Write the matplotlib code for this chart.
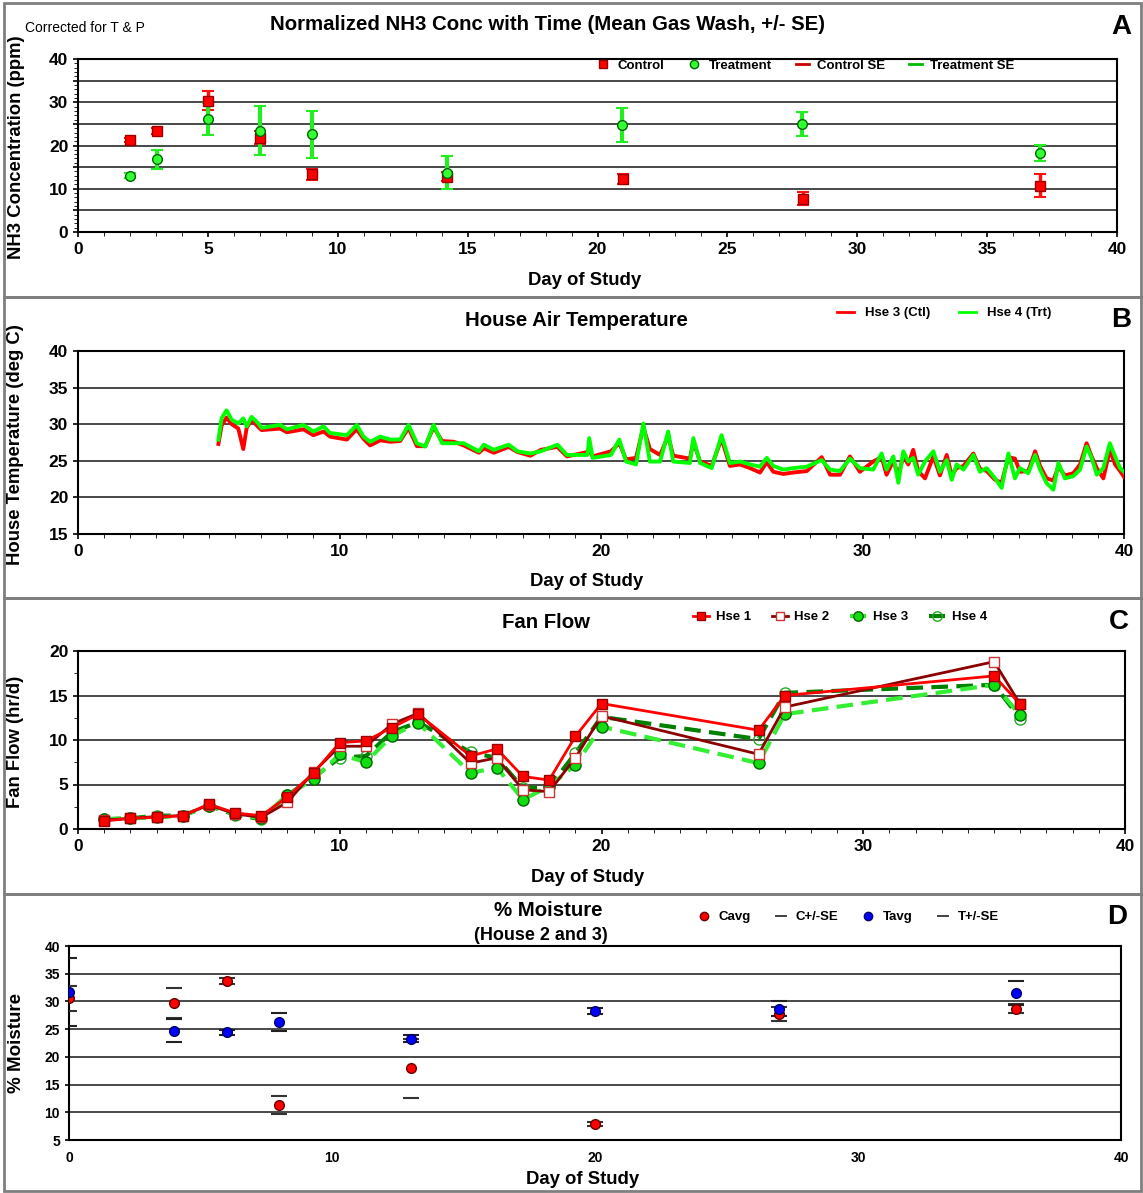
import matplotlib
matplotlib.use('Agg')
import matplotlib.pyplot as plt
from matplotlib.ticker import MultipleLocator, FuncFormatter
from matplotlib.patches import Rectangle
from matplotlib.lines import Line2D

plt.rcParams['font.family'] = ['Liberation Sans', 'DejaVu Sans']
plt.rcParams['font.weight'] = 'bold'
plt.rcParams['axes.linewidth'] = 1.5

# ---- A: NH3 gas wash means (ppm) +/- SE
ctl_days = [2, 3.03, 5.02, 7.02, 9.01, 14.22, 20.97, 27.93, 37.03]
ctl_mean = [21.2, 23.4, 30.4, 21.8, 13.3, 12.8, 12.3, 7.7, 10.7]
ctl_se = [0.5, 0.7, 2.2, 1.5, 1.2, 1.0, 1.2, 1.5, 2.7]
trt_days = [2, 3.03, 5.02, 7.02, 9.01, 14.22, 20.93, 27.89, 37.03]
trt_mean = [13.0, 16.8, 26.2, 23.4, 22.6, 13.7, 24.7, 25.0, 18.3]
trt_se = [0.6, 2.2, 3.7, 5.7, 5.4, 3.8, 4.0, 2.8, 1.9]

# ---- B: house air temperature (deg C)
temp_days = [5.37, 5.49, 5.68, 5.88, 6.13, 6.32, 6.45, 6.64, 6.9, 7.02, 7.73, 7.99,
             8.62, 9.0, 9.39, 9.64, 10.28, 10.66, 10.92, 11.17, 11.56, 11.94, 12.32,
             12.64, 12.96, 13.28, 13.6, 13.92, 14.37, 14.75, 15.33, 15.52, 15.9, 16.47,
             16.8, 17.3, 17.7, 18.33, 18.7, 19.48, 19.55, 19.68, 20.38, 20.7, 20.96,
             21.34, 21.62, 21.87, 22.26, 22.57, 22.76, 23.4, 23.53, 23.79, 24.23, 24.61,
             24.93, 25.32, 25.7, 26.08, 26.34, 26.59, 26.97, 27.35, 27.87, 28.44, 28.76,
             29.14, 29.52, 29.9, 30.41, 30.73, 30.92, 31.18, 31.37, 31.56, 31.75, 31.94,
             32.13, 32.39, 32.71, 32.96, 33.22, 33.41, 33.6, 33.86, 34.24, 34.49, 34.75,
             35.07, 35.32, 35.58, 35.83, 36.02, 36.34, 36.6, 36.79, 37.04, 37.3, 37.49,
             37.74, 38.06, 38.32, 38.57, 38.76, 38.96, 39.21, 39.46, 39.66, 39.85, 40.0]
temp_ctl = [27.3, 29.8, 30.9, 30.0, 29.4, 26.6, 29.5, 30.6, 29.6, 29.2, 29.4, 28.9,
            29.3, 28.5, 29.0, 28.3, 27.9, 29.3, 28.0, 27.1, 27.8, 27.6, 27.7,
            29.5, 27.0, 27.0, 29.6, 27.7, 27.6, 27.1, 26.1, 26.7, 26.1, 26.9,
            26.2, 25.7, 26.5, 26.9, 25.6, 26.2, 26.5, 25.6, 26.3, 27.4, 25.2,
            25.4, 29.6, 26.6, 25.8, 28.4, 25.7, 25.3, 27.6, 24.9, 24.3, 28.0,
            24.3, 24.5, 24.0, 23.4, 24.8, 23.5, 23.2, 23.4, 23.6, 25.5, 23.1,
            23.1, 25.6, 23.5, 24.9, 25.5, 23.1, 25.0, 23.0, 25.6, 24.5, 26.5,
            23.6, 22.6, 25.6, 23.0, 25.8, 23.0, 24.0, 24.3, 26.0, 23.9, 23.6,
            22.4, 22.0, 25.5, 25.3, 23.5, 23.6, 26.3, 24.3, 22.6, 22.3, 24.2,
            23.0, 23.3, 24.5, 27.4, 25.6, 24.0, 22.6, 26.5, 24.5, 23.6, 22.8]
temp_trt = [27.9, 30.8, 31.9, 30.6, 30.1, 30.8, 29.7, 31.0, 30.1, 29.5, 29.9, 29.3,
            29.9, 29.0, 29.7, 28.8, 28.5, 29.9, 28.3, 27.6, 28.3, 27.9, 27.9,
            29.9, 27.4, 26.95, 29.9, 27.4, 27.4, 27.4, 26.3, 27.2, 26.5, 27.2,
            26.3, 26.0, 26.3, 27.2, 25.8, 25.8, 28.1, 25.4, 25.8, 27.9, 24.9,
            24.5, 30.1, 24.9, 24.9, 29.0, 24.9, 24.7, 28.1, 24.7, 24.0, 28.5,
            24.7, 24.9, 24.5, 24.2, 25.4, 24.3, 23.8, 24.0, 24.2, 25.1, 23.8,
            23.6, 25.3, 24.0, 23.8, 26.0, 23.8, 25.6, 22.0, 26.3, 24.9, 25.4,
            23.1, 24.9, 26.3, 23.5, 25.1, 22.4, 24.5, 23.8, 25.8, 23.5, 24.0,
            22.6, 21.3, 26.0, 22.6, 24.0, 23.3, 25.8, 23.8, 21.95, 21.05, 24.7,
            22.6, 22.9, 23.8, 26.95, 25.4, 23.1, 24.0, 27.4, 25.6, 24.0, 23.5]

# ---- C: fan flow (hr/d)
fan_days = [1, 2, 3, 4, 5, 6, 7, 8, 9, 10, 11, 12, 13, 15, 16, 17, 18, 19, 20, 26, 27, 35, 36]
hse1 = [0.9, 1.2, 1.3, 1.5, 2.8, 1.8, 1.5, 3.6, 6.3, 9.7, 9.9, 11.4, 12.9, 8.2, 9.0, 5.9, 5.5,
        10.4, 14.1, 11.1, 15.0, 17.2, 14.0]
hse2 = [1.0, 1.2, 1.4, 1.5, 2.7, 1.7, 1.3, 3.0, 6.4, 9.3, 9.3, 11.8, 13.0, 7.4, 8.0, 4.4, 4.2,
        8.0, 12.7, 8.4, 13.7, 18.8, 14.0]
hse3 = [1.1, 1.2, 1.3, 1.5, 2.6, 1.7, 1.2, 3.8, 5.6, 8.4, 7.5, 10.5, 11.9, 6.3, 6.9, 3.3, 4.8,
        7.2, 11.5, 7.4, 12.9, 16.2, 12.8]
hse4 = [1.1, 1.2, 1.5, 1.5, 2.6, 1.6, 1.1, 3.8, 5.8, 8.0, 8.2, 10.9, 12.0, 8.6, 8.0, 4.6, 4.7,
        8.5, 12.6, 10.1, 15.3, 16.2, 12.4]

# ---- D: % moisture, house 2 and 3
moist_days = [0, 4, 6, 8, 13, 20, 27, 36]
cavg = [30.6, 29.7, 33.7, 11.3, 17.9, 7.9, 27.7, 28.7]
cse = [2.25, 2.7, 0.6, 1.6, 5.3, 0.4, 1.3, 0.8]
tavg = [31.7, 24.7, 24.4, 26.3, 23.3, 28.3, 28.7, 31.5]
tse = [6.1, 2.1, 0.5, 1.6, 0.6, 0.5, 1.4, 2.1]

W, H = 1143, 1193
fig = plt.figure(figsize=(W / 100, H / 100), dpi=100)

TITLE = 14.7
LABEL = 13.3


def px(x, y):
    return x / W, 1 - y / H


def make_ax(l, t, r, b):
    ax = fig.add_axes([l / W, 1 - b / H, (r - l) / W, (b - t) / H])
    return ax


def hgrid(ax, levels):
    for v in levels:
        ax.axhline(v, color='#3a3a3a', lw=1.3, zorder=1)


# panel frames
for top, bot in [(3, 297), (297, 598), (598, 894), (894, 1191)]:
    fig.add_artist(Rectangle(px(4, bot), 1137 / W, (bot - top) / H, transform=fig.transFigure,
                             fill=False, edgecolor='#7f7f7f', lw=2))

tick_kw = dict(labelsize=12.5, width=1.2, direction='out')

# ================= A
axA = make_ax(78, 59, 1117, 232)
hgrid(axA, [5, 10, 15, 20, 25, 30, 35])
e1 = axA.errorbar(ctl_days, ctl_mean, yerr=ctl_se, fmt='none', ecolor='#ff1010',
                  elinewidth=2.5, capsize=4, capthick=1.5, zorder=3)
e2 = axA.errorbar(trt_days, trt_mean, yerr=trt_se, fmt='none', ecolor='#22ee22',
                  elinewidth=3, capsize=4, capthick=1.5, zorder=3)
for c in list(e1[1]) + list(e2[1]):
    c.set_color('#333333')
axA.plot(ctl_days, ctl_mean, 's', color='#ff0000', mec='#990000', ms=7, zorder=4)
axA.plot(trt_days, trt_mean, 'o', color='#33ff33', mec='#006600', ms=7, zorder=4)
axA.set_xlim(0, 40)
axA.set_ylim(0, 40)
axA.xaxis.set_major_locator(MultipleLocator(5))
axA.xaxis.set_minor_locator(MultipleLocator(1))
axA.yaxis.set_major_locator(MultipleLocator(5))
axA.yaxis.set_minor_locator(MultipleLocator(1))
axA.yaxis.set_major_formatter(FuncFormatter(lambda v, p: '%d' % v if v % 10 == 0 else ''))
axA.tick_params(**tick_kw)
axA.tick_params(which='minor', length=3)
legA = [Line2D([], [], ls='none', marker='s', color='#ff0000', mec='#990000', ms=6),
        Line2D([], [], ls='none', marker='o', color='#33ff33', mec='#006600', ms=6),
        Line2D([], [], color='#cc0000', lw=2),
        Line2D([], [], color='#00bb00', lw=2)]
axA.legend(legA, ['Control', 'Treatment', 'Control SE', 'Treatment SE'], ncol=4,
           loc='center', bbox_to_anchor=px(805, 66), bbox_transform=fig.transFigure,
           frameon=False, prop={'size': 9.5, 'weight': 'bold'}, handlelength=1.0,
           handletextpad=0.6, columnspacing=1.8)
fig.text(*px(25, 28), 'Corrected for T & P', fontsize=10, weight='normal', va='center')
fig.text(*px(548, 25), 'Normalized NH3 Conc with Time (Mean Gas Wash, +/- SE)',
         fontsize=TITLE, ha='center', va='center')
fig.text(*px(1121, 27), 'A', fontsize=20, ha='center', va='center')
fig.text(*px(17, 147), 'NH3 Concentration (ppm)', fontsize=LABEL, rotation=90,
         ha='center', va='center')
fig.text(*px(585, 280), 'Day of Study', fontsize=LABEL, ha='center', va='center')

# ================= B
axB = make_ax(78, 351, 1124, 534)
hgrid(axB, [20, 25, 30, 35])
axB.plot(temp_days, temp_ctl, color='#ff0000', lw=2.8, zorder=3)
axB.plot(temp_days, temp_trt, color='#00ff00', lw=2.8, zorder=4)
axB.set_xlim(0, 40)
axB.set_ylim(15, 40)
axB.xaxis.set_major_locator(MultipleLocator(10))
axB.xaxis.set_minor_locator(MultipleLocator(1))
axB.yaxis.set_major_locator(MultipleLocator(5))
axB.tick_params(**tick_kw)
axB.tick_params(which='minor', length=3)
legB = [Line2D([], [], color='#ff0000', lw=2), Line2D([], [], color='#00ff00', lw=2)]
axB.legend(legB, ['Hse 3 (Ctl)', 'Hse 4 (Trt)'], ncol=2, loc='center',
           bbox_to_anchor=px(944, 313), bbox_transform=fig.transFigure, frameon=False,
           prop={'size': 9.5, 'weight': 'bold'}, handlelength=1.3, columnspacing=2.2)
fig.text(*px(576, 320), 'House Air Temperature', fontsize=TITLE, ha='center', va='center')
fig.text(*px(1121, 320), 'B', fontsize=20, ha='center', va='center')
fig.text(*px(16, 445), 'House Temperature (deg C)', fontsize=LABEL, rotation=90,
         ha='center', va='center')
fig.text(*px(587, 582), 'Day of Study', fontsize=LABEL, ha='center', va='center')

# ================= C
axC = make_ax(78, 651, 1125, 829)
hgrid(axC, [5, 10, 15])
axC.plot(fan_days, hse4, '--o', color='#008000', lw=3, dashes=(4, 2), mfc='none',
         mec='#22aa22', ms=8, zorder=3, label='Hse 4')
axC.plot(fan_days, hse3, '--o', color='#33ee33', lw=3, dashes=(4, 2), mfc='#11dd11',
         mec='#006600', ms=8, zorder=4, label='Hse 3')
axC.plot(fan_days, hse2, '-s', color='#8b0000', lw=2, mfc='white', mec='#cc3333',
         ms=7, zorder=5, label='Hse 2')
axC.plot(fan_days, hse1, '-s', color='#ff0000', lw=2, mfc='#ff0000', mec='#990000',
         ms=7, zorder=6, label='Hse 1')
axC.set_xlim(0, 40)
axC.set_ylim(0, 20)
axC.xaxis.set_major_locator(MultipleLocator(10))
axC.xaxis.set_minor_locator(MultipleLocator(1))
axC.yaxis.set_major_locator(MultipleLocator(5))
axC.yaxis.set_minor_locator(MultipleLocator(2.5))
axC.tick_params(**tick_kw)
axC.tick_params(which='minor', length=3)
h, l = axC.get_legend_handles_labels()
axC.legend(h[::-1], l[::-1], ncol=4, loc='center', bbox_to_anchor=px(840, 617),
           bbox_transform=fig.transFigure, frameon=False,
           prop={'size': 9.5, 'weight': 'bold'}, handlelength=1.2, handletextpad=0.5,
           columnspacing=1.6, markerscale=0.85)
fig.text(*px(546, 622), 'Fan Flow', fontsize=TITLE, ha='center', va='center')
fig.text(*px(1119, 622), 'C', fontsize=20, ha='center', va='center')
fig.text(*px(16, 742), 'Fan Flow (hr/d)', fontsize=LABEL, rotation=90,
         ha='center', va='center')
fig.text(*px(588, 877), 'Day of Study', fontsize=LABEL, ha='center', va='center')

# ================= D
axD = make_ax(69, 946, 1121, 1140)
hgrid(axD, [10, 15, 20, 25, 30, 35])
c_hi = [m + s for m, s in zip(cavg, cse)]
c_lo = [m - s for m, s in zip(cavg, cse)]
t_hi = [m + s for m, s in zip(tavg, tse)]
t_lo = [m - s for m, s in zip(tavg, tse)]
axD.plot(moist_days, c_hi, '_', color='#333333', ms=11, mew=1.5, zorder=3)
axD.plot(moist_days, c_lo, '_', color='#333333', ms=11, mew=1.5, zorder=3)
axD.plot(moist_days, t_hi, '_', color='#222222', ms=11, mew=1.5, zorder=3)
axD.plot(moist_days, t_lo, '_', color='#222222', ms=11, mew=1.5, zorder=3)
axD.plot(moist_days, cavg, 'o', color='#ff0000', mec='#660000', ms=7, zorder=4)
axD.plot(moist_days, tavg, 'o', color='#0000ff', mec='#000066', ms=7, zorder=4)
axD.set_xlim(0, 40)
axD.set_ylim(5, 40)
axD.xaxis.set_major_locator(MultipleLocator(10))
axD.yaxis.set_major_locator(MultipleLocator(5))
axD.tick_params(labelsize=10, width=1.2, length=3, direction='out')
axD.tick_params(axis='x', length=0, pad=8)
legD = [Line2D([], [], ls='none', marker='o', color='#ff0000', mec='#660000', ms=6),
        Line2D([], [], ls='none', marker='_', color='#333333', ms=9, mew=1.3),
        Line2D([], [], ls='none', marker='o', color='#0000ff', mec='#000066', ms=6),
        Line2D([], [], ls='none', marker='_', color='#333333', ms=9, mew=1.3)]
axD.legend(legD, ['Cavg', 'C+/-SE', 'Tavg', 'T+/-SE'], ncol=4, loc='center',
           bbox_to_anchor=px(848, 917), bbox_transform=fig.transFigure, frameon=False,
           prop={'size': 9.5, 'weight': 'bold'}, handlelength=1.0, handletextpad=0.6,
           columnspacing=1.8)
fig.text(*px(548, 911), '% Moisture', fontsize=TITLE, ha='center', va='center')
fig.text(*px(541, 935), '(House 2 and 3)', fontsize=13, ha='center', va='center')
fig.text(*px(1117, 917), 'D', fontsize=20, ha='center', va='center')
fig.text(*px(17, 1043), '% Moisture', fontsize=13.5, rotation=90, ha='center', va='center')
fig.text(*px(583, 1180), 'Day of Study', fontsize=LABEL, ha='center', va='center')

fig.savefig('out.png', dpi=100)
